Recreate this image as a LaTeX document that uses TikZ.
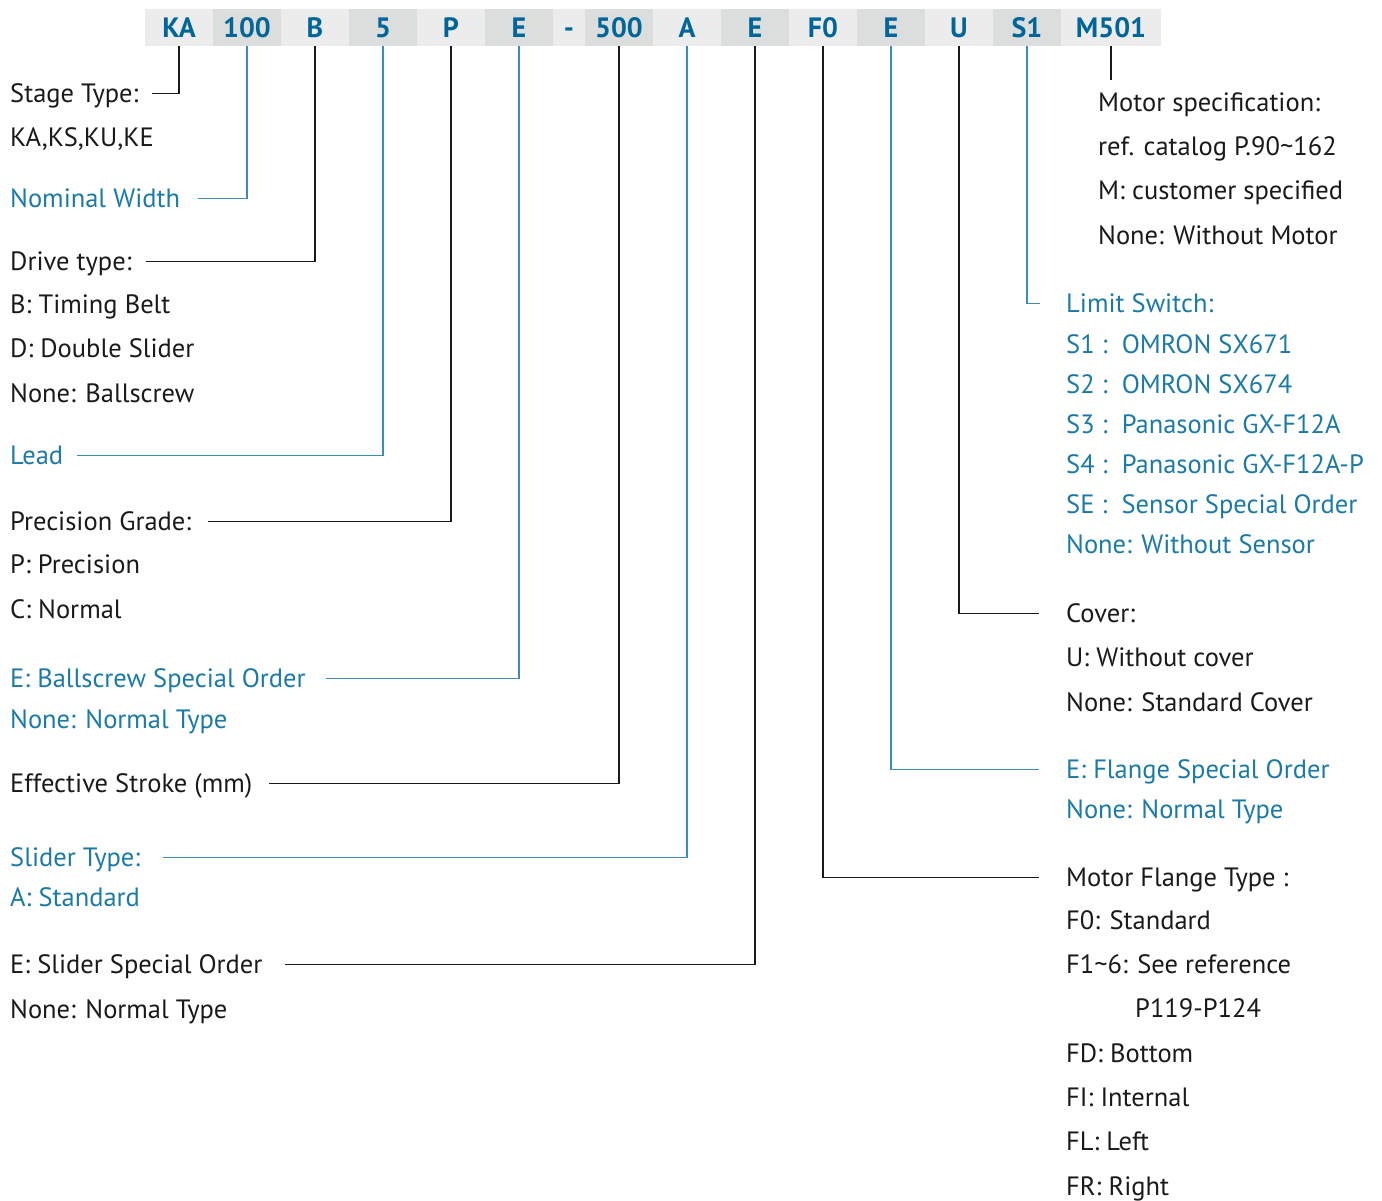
\documentclass[tikz,border=0pt]{standalone}
\usepackage{fontspec}
\setmainfont{PT Sans}
\usetikzlibrary{positioning}
\definecolor{pnblue}{RGB}{0,102,153}
\definecolor{lblue}{RGB}{28,122,166}
\definecolor{lnblue}{RGB}{60,140,180}
\definecolor{cellA}{RGB}{236,236,236}
\definecolor{cellB}{RGB}{220,221,221}
\definecolor{ink}{RGB}{26,26,26}

\begin{document}
\begin{tikzpicture}[x=1pt,y=-1pt,
  cell/.style={minimum width=68pt,minimum height=37pt,inner sep=0pt,outer sep=0pt,text height=20pt,text depth=0pt,font=\fontsize{28}{30}\selectfont\bfseries,text=pnblue},
  lbl/.style={anchor=base west,inner sep=0pt,text height=20pt,text depth=3pt,text=ink,font=\fontsize{26.5}{28}\selectfont},
  opt/.style={anchor=base west,inner sep=0pt,align=left,text=ink,font=\fontsize{26.5}{44.3}\selectfont},
  optb/.style={opt,text=lblue,font=\fontsize{26.5}{40}\selectfont},
  bl/.style={text=lblue},
  kline/.style={draw=ink,line width=1.3pt},
  bline/.style={draw=lnblue,line width=1.3pt}]
  \useasboundingbox (0,0) rectangle (1382,1200);

  % part number bar
  \node[cell,fill=cellA] (ka) at (179,27.5) {KA};
  \node[cell,fill=cellB,right=0pt of ka] (wid) {100};
  \node[cell,fill=cellA,right=0pt of wid] (drv) {B};
  \node[cell,fill=cellB,right=0pt of drv] (ld) {5};
  \node[cell,fill=cellA,right=0pt of ld] (pg) {P};
  \node[cell,fill=cellB,right=0pt of pg] (bs) {E};
  \node[cell,fill=cellA,right=0pt of bs,minimum width=32pt] (dsh) {-};
  \node[cell,fill=cellB,right=0pt of dsh] (st) {500};
  \node[cell,fill=cellA,right=0pt of st] (sl) {A};
  \node[cell,fill=cellB,right=0pt of sl] (ss) {E};
  \node[cell,fill=cellA,right=0pt of ss] (fl) {F0};
  \node[cell,fill=cellB,right=0pt of fl] (fs) {E};
  \node[cell,fill=cellA,right=0pt of fs] (cv) {U};
  \node[cell,fill=cellB,right=0pt of cv] (ls) {S1};
  \node[cell,fill=cellA,right=0pt of ls,minimum width=100pt] (mot) {M501};

  % left column (multi-line nodes sit on their last baseline)
  \node[lbl] (stage) at (10,102) {Stage Type:};
  \node[opt] (stageopt) at (10,146) {KA,KS,KU,KE};
  \node[lbl,bl] (nomw) at (10,207) {Nominal Width};
  \node[lbl] (drive) at (10,270) {Drive type:};
  \node[opt] (driveopt) at (10,402) {B: Timing Belt\\D: Double Slider\\None: Ballscrew};
  \node[lbl,bl] (lead) at (10,464) {Lead};
  \node[lbl] (prec) at (10,530) {Precision Grade:};
  \node[opt] (precopt) at (10,618) {P: Precision\\C: Normal};
  \node[lbl,bl] (bse) at (10,687) {E: Ballscrew Special Order};
  \node[optb] (bseopt) at (10,728) {None: Normal Type};
  \node[lbl] (strk) at (10,792) {Effective Stroke (mm)};
  \node[lbl,bl] (sld) at (10,866) {Slider Type:};
  \node[optb] (sldopt) at (10,906) {A: Standard};
  \node[lbl] (sse) at (10,973) {E: Slider Special Order};
  \node[opt] (sseopt) at (10,1018) {None: Normal Type};

  % right column
  \node[opt] (motspec) at (1098,244) {Motor specification:\\ref. catalog P.90\textasciitilde162\\M: customer specified\\None: Without Motor};
  \node[lbl,bl] (limit) at (1066,312) {Limit Switch:};
  \node[optb] (limitopt) at (1066,553) {S1 :~~OMRON SX671\\S2 :~~OMRON SX674\\S3 :~~Panasonic GX-F12A\\S4 :~~Panasonic GX-F12A-P\\SE :~~Sensor Special Order\\None: Without Sensor};
  \node[lbl] (cover) at (1066,622) {Cover:};
  \node[opt] (coveropt) at (1066,711) {U: Without cover\\None: Standard Cover};
  \node[lbl,bl] (fse) at (1066,778) {E: Flange Special Order};
  \node[optb] (fseopt) at (1066,818) {None: Normal Type};
  \node[lbl] (flng) at (1066,886) {Motor Flange Type :};
  \node[opt] (flngopt) at (1066,1195) {F0: Standard\\F1\textasciitilde6: See reference\\\hspace*{69pt}P119-P124\\FD: Bottom\\FI: Internal\\FL: Left\\FR: Right};

  % leaders
  \draw[kline] (ka.south) |- ([xshift=13pt]stage.east);
  \draw[bline] (wid.south) |- ([xshift=18pt]nomw.east);
  \draw[kline] (drv.south) |- ([xshift=14pt]drive.east);
  \draw[bline] (ld.south) |- ([xshift=14pt]lead.east);
  \draw[kline] (pg.south) |- ([xshift=17pt]prec.east);
  \draw[bline] (bs.south) |- ([xshift=20pt]bse.east);
  \draw[kline] (st.south) |- ([xshift=16pt]strk.east);
  \draw[bline] (sl.south) |- ([xshift=23pt]sld.east);
  \draw[kline] (ss.south) |- ([xshift=22pt]sse.east);
  \draw[kline] (fl.south) |- ([xshift=-27pt]flng.west);
  \draw[bline] (fs.south) |- ([xshift=-27pt]fse.west);
  \draw[kline] (cv.south) |- ([xshift=-27pt]cover.west);
  \draw[bline] (ls.south) |- ([xshift=-26pt]limit.west);
  \coordinate (motend) at (1111,80);
  \draw[kline] (mot.south) -- (motend);
\end{tikzpicture}
\end{document}
